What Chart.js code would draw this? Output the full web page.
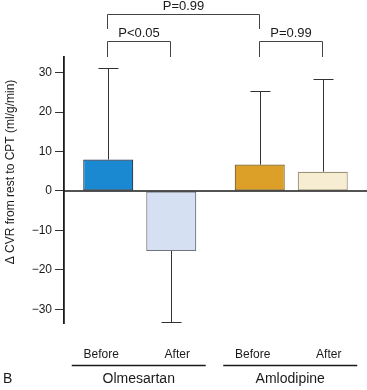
<!DOCTYPE html>
<html>
<head>
<meta charset="utf-8">
<script src="https://cdn.jsdelivr.net/npm/chart.js@4/dist/chart.umd.min.js"></script>
<style>
  html, body { margin: 0; padding: 0; background: #fff; }
  canvas { display: block; }
</style>
</head>
<body>
<canvas id="chart" width="367" height="390"></canvas>
<script>
/* global Chart */
const groups = ['Olmesartan', 'Amlodipine'];
const phases = ['Before', 'After'];
const beforeVals = [8.0, 6.7];
const afterVals = [-15.2, 4.9];
const beforeSD = [23.3, 18.7];
const afterSD = [18.1, 23.4];
const yTicks = [-30, -20, -10, 0, 10, 20, 30];
const yTitle = '\u0394 CVR from rest to CPT (ml/g/min)';
const comparisons = [
  { label: 'P=0.99', from: [0, 0], to: [1, 0], level: 0 },
  { label: 'P<0.05', from: [0, 0], to: [0, 1], level: 1 },
  { label: 'P=0.99', from: [1, 0], to: [1, 1], level: 1 }
];

const FONT = '"Liberation Sans", Arial, Helvetica, sans-serif';
const INK = '#1a1a1a';

function barX(chart, ds, i){
  return chart.getDatasetMeta(ds).data[i].x;
}

const errorBars = {
  id: 'errorBars',
  afterDatasetsDraw(chart){
    const ctx = chart.ctx;
    const y = chart.scales.y;
    const sds = [beforeSD, afterSD];
    ctx.save();
    ctx.strokeStyle = '#333';
    ctx.lineWidth = 1;
    chart.data.datasets.forEach((d, di) => {
      d.data.forEach((v, i) => {
        const x = Math.round(barX(chart, di, i)) + 0.5;
        const end = v + Math.sign(v) * sds[di][i];
        const y0 = y.getPixelForValue(v);
        const y1 = Math.round(y.getPixelForValue(end)) + 0.5;
        ctx.beginPath();
        ctx.moveTo(x, y0); ctx.lineTo(x, y1);
        ctx.moveTo(x - 10, y1); ctx.lineTo(x + 10, y1);
        ctx.stroke();
      });
    });
    // zero line
    const z = y.getPixelForValue(0);
    ctx.strokeStyle = INK;
    ctx.lineWidth = 1.6;
    ctx.beginPath();
    ctx.moveTo(chart.chartArea.left, z);
    ctx.lineTo(chart.width, z);
    ctx.stroke();
    ctx.restore();
  }
};

const annotations = {
  id: 'annotations',
  afterDraw(chart){
    const ctx = chart.ctx;
    ctx.save();
    ctx.fillStyle = INK;
    ctx.strokeStyle = '#444';
    ctx.lineWidth = 1;

    // significance brackets
    const levels = [{ top: 14, leg: 29, text: 6 }, { top: 41, leg: 57, text: 33 }];
    ctx.font = '13px ' + FONT;
    ctx.textAlign = 'center';
    ctx.textBaseline = 'middle';
    comparisons.forEach(c => {
      const L = levels[c.level];
      const x1 = Math.round(barX(chart, c.from[1], c.from[0])) - 0.5;
      const x2 = Math.round(barX(chart, c.to[1], c.to[0])) - 0.5;
      ctx.beginPath();
      ctx.moveTo(x1, L.leg); ctx.lineTo(x1, L.top + 0.5);
      ctx.lineTo(x2, L.top + 0.5); ctx.lineTo(x2, L.leg);
      ctx.stroke();
      ctx.fillText(c.label, (x1 + x2) / 2, L.text);
    });

    // y axis title
    ctx.save();
    ctx.translate(11, 172);
    ctx.rotate(-Math.PI / 2);
    ctx.font = '12px ' + FONT;
    ctx.fillText(yTitle, 0, 0);
    ctx.restore();

    // phase labels, group underline and group names
    const xs = chart.scales.x;
    groups.forEach((g, gi) => {
      ctx.font = '12px ' + FONT;
      ctx.fillText(phases[0], barX(chart, 0, gi) - 7, 355);
      ctx.fillText(phases[1], barX(chart, 1, gi) + 6, 355);
      const gx = xs.getPixelForValue(gi) - 1;
      ctx.strokeStyle = INK;
      ctx.lineWidth = 1.5;
      ctx.beginPath();
      ctx.moveTo(gx - 67, 365.5); ctx.lineTo(gx + 67, 365.5);
      ctx.stroke();
      ctx.font = '14px ' + FONT;
      ctx.fillText(g, gx, 379);
    });

    ctx.textAlign = 'left';
    ctx.font = '14px ' + FONT;
    ctx.fillText('B', 3, 379);
    ctx.restore();
  }
};

new Chart(document.getElementById('chart'), {
  type: 'bar',
  data: {
    labels: groups,
    datasets: [
      {
        label: phases[0],
        data: beforeVals,
        backgroundColor: ['#1a89d2', '#dc9f28'],
        borderColor: ['#23384c', '#7d5f1e'],
        borderWidth: 1.2,
        borderSkipped: false
      },
      {
        label: phases[1],
        data: afterVals,
        backgroundColor: ['#d5e1f3', '#f6edd3'],
        borderColor: ['#6f7480', '#9e9076'],
        borderWidth: 1.2,
        borderSkipped: false
      }
    ]
  },
  options: {
    responsive: false,
    animation: false,
    categoryPercentage: 0.832,
    barPercentage: 0.794,
    layout: { padding: { top: 57, bottom: 67, left: 0, right: 0 } },
    plugins: { legend: { display: false }, tooltip: { enabled: false } },
    scales: {
      x: { display: false },
      y: {
        min: -33.5,
        max: 34,
        afterFit: s => { s.width = 64; },
        afterBuildTicks: s => { s.ticks = yTicks.map(v => ({ value: v })); },
        ticks: {
          color: INK,
          padding: 3,
          font: { family: FONT, size: 12 },
          callback: v => v < 0 ? '\u2212' + Math.abs(v) : String(v)
        },
        grid: { drawOnChartArea: false, tickLength: 9, color: '#333', lineWidth: 1 },
        border: { display: true, color: INK, width: 1.8 }
      }
    }
  },
  plugins: [errorBars, annotations]
});
</script>
</body>
</html>
